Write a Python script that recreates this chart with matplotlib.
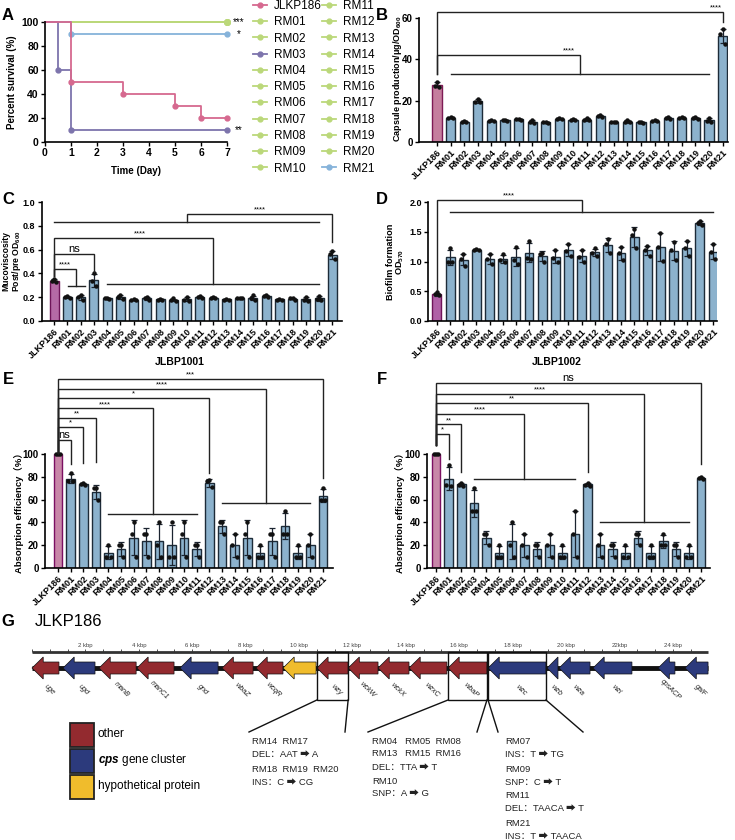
import numpy as np
import matplotlib.pyplot as plt
import matplotlib.patches as mpatches
from matplotlib.lines import Line2D

plt.rcParams['font.family'] = ['Liberation Sans', 'Noto Sans CJK SC', 'DejaVu Sans']
plt.rcParams['mathtext.fontset'] = 'custom'
plt.rcParams['mathtext.rm'] = 'Liberation Sans'
plt.rcParams['mathtext.bf'] = 'Liberation Sans:bold'
plt.rcParams['mathtext.bfit'] = 'Liberation Sans:italic:bold'
plt.rcParams['axes.linewidth'] = 1.2

W, H = 735, 840

strains = ['JLKP186', 'RM01', 'RM02', 'RM03', 'RM04', 'RM05', 'RM06', 'RM07',
           'RM08', 'RM09', 'RM10', 'RM11', 'RM12', 'RM13', 'RM14', 'RM15',
           'RM16', 'RM17', 'RM18', 'RM19', 'RM20', 'RM21']

# A: survival
days_jlkp = [0, 1, 3, 5, 6, 7]
surv_jlkp = [100, 50, 40, 30, 20, 20]
days_rm03 = [0, 0.5, 1, 7]
surv_rm03 = [100, 60, 10, 10]
days_rm21 = [0, 1, 7]
surv_rm21 = [100, 90, 90]
days_other = [0, 7]
surv_other = [100, 100]

# B: capsule production, 3 replicates
capsule = [[29.0, 27.0, 26.8], [12.0, 11.8, 11.6], [10.0, 9.6, 9.7], [21.0, 19.5, 19.2],
           [10.5, 10.2, 10.1], [10.8, 10.5, 10.2], [11.2, 11.0, 10.8], [10.5, 9.5, 9.4],
           [9.8, 9.5, 9.3], [11.6, 11.2, 11.0], [10.9, 10.8, 10.7], [11.5, 10.6, 10.4],
           [13.0, 12.8, 12.0], [9.9, 9.7, 9.6], [10.5, 9.6, 9.5], [9.9, 9.5, 9.2],
           [10.4, 10.2, 10.0], [12.0, 11.5, 11.3], [12.2, 11.8, 11.5], [12.3, 11.5, 11.2],
           [11.8, 10.2, 9.8], [54.5, 52.0, 47.5]]

# C: mucoviscosity
mucov = [[0.35, 0.34, 0.33], [0.21, 0.20, 0.19], [0.22, 0.20, 0.18], [0.40, 0.34, 0.29],
         [0.195, 0.19, 0.185], [0.22, 0.20, 0.185], [0.185, 0.18, 0.175], [0.205, 0.19, 0.18],
         [0.185, 0.18, 0.18], [0.19, 0.175, 0.17], [0.20, 0.18, 0.17], [0.21, 0.20, 0.19],
         [0.20, 0.195, 0.19], [0.185, 0.18, 0.18], [0.195, 0.19, 0.19], [0.215, 0.19, 0.18],
         [0.215, 0.21, 0.205], [0.185, 0.18, 0.18], [0.195, 0.19, 0.18], [0.20, 0.18, 0.17],
         [0.21, 0.185, 0.175], [0.59, 0.56, 0.52]]

# D: biofilm
biofilm = [[0.48, 0.45, 0.43], [1.22, 1.00, 1.00], [1.12, 1.05, 0.93], [1.21, 1.20, 1.19],
           [1.13, 1.04, 0.95], [1.12, 1.02, 1.00], [1.24, 1.03, 0.95], [1.34, 1.06, 1.05],
           [1.15, 1.13, 1.00], [1.20, 1.06, 0.99], [1.30, 1.18, 1.09], [1.20, 1.07, 1.00],
           [1.22, 1.14, 1.10], [1.37, 1.30, 1.14], [1.24, 1.14, 1.03], [1.55, 1.45, 1.22],
           [1.26, 1.20, 1.10], [1.48, 1.25, 1.01], [1.33, 1.20, 1.02], [1.35, 1.22, 1.10],
           [1.68, 1.64, 1.61], [1.29, 1.16, 1.04]]

# E: absorption efficiency JLBP1001
absorb_1001 = [[100, 100, 100], [83, 76, 76], [75, 74, 73], [70, 70, 60], [20, 10, 10],
               [20, 20, 10], [40, 30, 10], [30, 30, 10], [40, 20, 10], [40, 10, 10],
               [40, 30, 10], [20, 20, 10], [77, 76, 71], [40, 40, 30], [30, 20, 10],
               [40, 30, 10], [20, 10, 10], [30, 30, 10], [50, 30, 30], [20, 10, 10],
               [30, 20, 10], [70, 60, 60]]

# F: absorption efficiency JLBP1002
absorb_1002 = [[100, 100, 100], [90, 73, 72], [75, 73, 72], [70, 50, 50], [30, 30, 20],
               [20, 10, 10], [40, 20, 10], [30, 20, 10], [20, 20, 10], [30, 20, 10],
               [20, 10, 10], [50, 30, 10], [75, 73, 72], [30, 20, 10], [20, 20, 10],
               [20, 10, 10], [30, 30, 20], [20, 10, 10], [30, 20, 20], [20, 20, 10],
               [20, 10, 10], [80, 79, 78]]

# significance brackets: (x0, x1, height, left end, right end, text, text x, group)
sig_b = [(0, 21, 62.9, 33, 58, '****', 20.5, None),
         (0, 10.5, 42, 33, 33, '****', 9.7, (1, 20))]
sig_c = [(10, 21, 0.90, 0.83, 0.66, '****', None, (0, 20)),
         (0, 12, 0.70, 0.38, 0.31, '****', 6.5, (4, 20)),
         (0, 3, 0.56, 0.38, 0.41, 'ns', None, None),
         (0, 1.65, 0.44, 0.38, 0.29, '****', None, (1.05, 2.3))]
sig_d = [(0, 11, 2.03, 0.52, 1.83, '****', None, (1, 21))]
sig_e = [(0, 21, 165.8, 101, 79, '***', None, None),
         (0, 16.5, 157, 101, 57, '****', None, (13, 20)),
         (0, 12, 149, 101, 83, '*', None, None),
         (0, 7.5, 140, 101, 47, '****', None, (4, 11)),
         (0, 3, 132, 101, 93, '**', None, None),
         (0, 2, 124, 101, 92, '*', None, None),
         (0, 1, 112, 101, 91, 'ns', None, None)]
sig_f = [(0, 21, 162, 108, 91, 'ns', None, None),
         (0, 16.5, 153, 108, 40, '****', None, (13, 20)),
         (0, 12, 145, 108, 84, '**', None, None),
         (0, 7, 135, 108, 78, '****', None, (3, 11)),
         (0, 2, 126, 108, 84, '**', None, None),
         (0, 1, 118, 108, 96, '*', None, None)]

# G: gene map (kbp)
gene_names = ['uge', 'ugd', 'manB', 'manC1', 'gnd', 'wbaZ', 'wcqR', '', 'wzy', 'wckW',
              'wckX', 'wzxC', 'wbaP', 'wzc', 'wzb', 'wza', 'wzi', 'cpsACP', 'galF']
gene_start = [0.0, 1.16, 2.51, 3.93, 5.54, 7.12, 8.39, 9.40, 10.67, 11.84,
              12.96, 14.12, 15.58, 17.08, 19.29, 19.74, 21.01, 23.45, 24.46]
gene_end = [1.01, 2.36, 3.90, 5.32, 6.97, 8.28, 9.40, 10.64, 11.84, 12.96,
            14.12, 15.54, 17.04, 19.25, 19.70, 20.90, 22.47, 24.08, 25.32]
gene_type = ['other', 'cps', 'other', 'other', 'cps', 'other', 'other', 'hyp', 'other', 'other',
             'other', 'other', 'other', 'cps', 'cps', 'cps', 'cps', 'cps', 'cps']
ruler_labels = ['2 kbp', '4 kbp', '6 kbp', '8 kbp', '10 kbp', '12 kbp',
                '14 kbp', '16 kbp', '18 kbp', '20 kbp', '22kbp', '24 kbp']
boxed_genes = ['wzy', 'wbaP', 'wzc']
mut_block1 = ['RM14  RM17', 'DEL：AAT ➡ A', 'RM18  RM19  RM20', 'INS：C ➡ CG']
mut_block2 = ['RM04   RM05  RM08', 'RM13   RM15  RM16', 'DEL：TTA ➡ T', 'RM10', 'SNP：A ➡ G']
mut_block3 = ['RM07', 'INS：T ➡ TG', 'RM09', 'SNP：C ➡ T', 'RM11', 'DEL：TAACA ➡ T',
              'RM21', 'INS：T ➡ TAACA']

gene_colors = {'other': '#932A2F', 'cps': '#2C3A7C', 'hyp': '#F0BC2C'}
c_pink, c_purple, c_blue, c_green = '#D6698F', '#7D74AC', '#86B3DA', '#BBD87A'
bar_blue, bar_edge = '#8CB2CD', '#1D2B38'


def rect(l, t, r, b):
    return [l / W, 1 - b / H, (r - l) / W, (b - t) / H]


def ylab(ax, text, px, left, width, yfrac=0.5, fs=7):
    ax.set_ylabel(text, fontsize=fs, fontweight='bold', va='center', ha='center',
                  linespacing=1.0)
    ax.yaxis.set_label_coords((px - left) / width, yfrac)


def bar_panel(ax, pts, face0, edge0, xlim, ylim, yticks, ytop, yfmt, ytick_fs=7):
    pts = np.array(pts, dtype=float)
    means = pts.mean(axis=1)
    sds = pts.std(axis=1, ddof=1)
    x = np.arange(len(strains))
    ax.bar(x, means, width=0.68, color=[face0] + [bar_blue] * 21,
           edgecolor=[edge0] + [bar_edge] * 21, linewidth=1.0, zorder=2)
    ax.errorbar(x, means, yerr=sds, fmt='none', ecolor='#1b2430', elinewidth=0.9,
                capsize=2.0, capthick=0.9, zorder=3)
    offs = np.array([0, -0.17, 0.17])
    ax.plot((x[:, None] + offs).ravel(), pts.ravel(), 'o', ms=2.2, color='#111',
            zorder=4, linestyle='none')
    ax.set_xlim(xlim)
    ax.set_ylim(ylim)
    ax.spines[['top', 'right']].set_visible(False)
    ax.spines['left'].set_bounds(0, ytop)
    ax.set_yticks(yticks)
    ax.set_yticklabels([yfmt.format(v) for v in yticks], fontsize=ytick_fs, fontweight='bold')
    ax.set_xticks(x)
    ax.set_xticklabels(strains, rotation=45, ha='right', rotation_mode='anchor',
                       fontsize=6.5, fontweight='bold')
    ax.tick_params(length=3, width=1, pad=1.5)


def brackets(ax, sigs):
    for x0, x1, h, y0, y1, txt, tx, grp in sigs:
        ax.plot([x0, x0, x1, x1], [y0, h, h, y1], color='#222', lw=1.0, clip_on=False,
                solid_joinstyle='miter', zorder=5)
        if grp is not None:
            ax.plot(grp, [y0 if x0 != 0 else y1] * 2, color='#222', lw=1.0,
                    clip_on=False, zorder=5)
        if tx is None:
            tx = (x0 + x1) / 2
        fs = 8 if txt == 'ns' else 5.5
        ax.annotate(txt, (tx, h), xytext=(0, 0.3), textcoords='offset points',
                    ha='center', va='bottom', fontsize=fs, annotation_clip=False)


fig = plt.figure(figsize=(W / 100, H / 100), dpi=100)

# ---------------- A ----------------
ax = fig.add_axes(rect(45, 22, 227, 142))
curves = {}
for s in strains:
    if s == 'JLKP186':
        curves[s] = (days_jlkp, surv_jlkp, c_pink)
    elif s == 'RM03':
        curves[s] = (days_rm03, surv_rm03, c_purple)
    elif s == 'RM21':
        curves[s] = (days_rm21, surv_rm21, c_blue)
    else:
        curves[s] = (days_other, surv_other, c_green)
order = [s for s in strains if curves[s][2] == c_green] + ['RM21', 'RM03', 'JLKP186']
for s in order:
    d, v, c = curves[s]
    ax.step(d, v, where='post', color=c, lw=1.3, clip_on=False)
    ax.plot(d[1:], v[1:], 'o', ms=3.5, color=c, clip_on=False)
ax.set_xlim(0, 7)
ax.set_ylim(0, 100)
ax.spines[['top', 'right']].set_visible(False)
ax.set_xticks(range(8))
ax.set_yticks(range(0, 101, 20))
plt.setp(ax.get_xticklabels() + ax.get_yticklabels(), fontsize=7.5, fontweight='bold')
ax.tick_params(length=3, width=1, pad=1.5)
ax.set_xlabel('Time (Day)', fontsize=7, fontweight='bold')
ax.xaxis.set_label_coords(0.5, -0.2)
ylab(ax, 'Percent survival (%)', 12, 45, 182)
for txt, yv in [('***', 100), ('*', 90), ('**', 10)]:
    ax.text(7.45, yv, txt, fontsize=7, ha='center', va='center', clip_on=False)
handles = [Line2D([], [], color=curves[s][2], marker='o', ms=3.5, lw=1.3) for s in strains]
fig.legend(handles, strains, ncol=2, loc='upper left', bbox_to_anchor=(253 / W, 1 + 0 / H),
           frameon=False, fontsize=8.5, labelspacing=0.36, handlelength=1.2,
           handletextpad=0.6, columnspacing=0.0, borderpad=0, borderaxespad=0)

# ---------------- B ----------------
ax = fig.add_axes(rect(419, 8, 728, 142))
bar_panel(ax, capsule, '#C57E9E', '#7E1A55', (-1.32, 21.4), (0, 64.8), [0, 20, 40, 60], 60, '{:.0f}')
brackets(ax, sig_b)
ylab(ax, r'Capsule production/μg/OD$_{\mathbf{600}}$', 397, 419, 309, 0.47, fs=6.5)

# ---------------- C ----------------
ax = fig.add_axes(rect(41.7, 202, 341.7, 321))
bar_panel(ax, mucov, '#B56AA6', '#6E1459', (-0.93, 21.7), (0, 1.0),
          [0, 0.2, 0.4, 0.6, 0.8, 1.0], 1.0, '{:.1f}', ytick_fs=6.5)
brackets(ax, sig_c)
ylab(ax, 'Mucoviscosity\n' + r'Post/pre OD$_{\mathbf{600}}$', 12, 41.7, 300, fs=6.2)
fig.text(180 / W, 1 - 362 / H, 'JLBP1001', fontsize=7.5, fontweight='bold',
         ha='center', va='center')

# ---------------- D ----------------
ax = fig.add_axes(rect(428, 202, 717, 321))
bar_panel(ax, biofilm, '#B060A6', '#6E1459', (-0.68, 21.3), (0, 2.0),
          [0, 0.5, 1.0, 1.5, 2.0], 2.0, '{:.1f}', ytick_fs=6.5)
brackets(ax, sig_d)
ylab(ax, 'Biofilm formation\n' + r'OD$_{\mathbf{570}}$', 396, 428, 289, fs=6.6)
fig.text(557 / W, 1 - 362 / H, 'JLBP1002', fontsize=7.5, fontweight='bold',
         ha='center', va='center')

# ---------------- E ----------------
ax = fig.add_axes(rect(45, 372, 333, 568))
bar_panel(ax, absorb_1001, '#C887A8', '#7B0F62', (-1.03, 21.8), (0, 172),
          list(range(0, 101, 20)), 100, '{:.0f}')
brackets(ax, sig_e)
ylab(ax, 'Absorption efficiency（%）', 19, 45, 288, 50 / 172, fs=6.8)

# ---------------- F ----------------
ax = fig.add_axes(rect(427, 372, 710, 568))
bar_panel(ax, absorb_1002, '#C887A8', '#7B0F62', (-0.71, 21.7), (0, 172),
          list(range(0, 101, 20)), 100, '{:.0f}')
brackets(ax, sig_f)
ylab(ax, 'Absorption efficiency（%）', 400, 427, 283, 50 / 172, fs=6.8)

# panel letters
for lab, px, py in [('A', 8, 15), ('B', 382, 15), ('C', 8, 199), ('D', 382, 199),
                    ('E', 8, 380), ('F', 382, 380), ('G', 8, 621)]:
    fig.text(px / W, 1 - py / H, lab, fontsize=12, fontweight='bold', ha='center', va='center')

# ---------------- G ----------------
def kb(px):
    return (px - 32) / 26.7


axg = fig.add_axes([0, 0, 1, 240 / H])
axg.set_xlim(kb(0), kb(W))
axg.set_ylim(840, 600)
axg.axis('off')
fig.text(35 / W, 1 - 621 / H, 'JLKP186', fontsize=12, ha='left', va='center')

ruler_end = gene_end[-1]
axg.plot([0, ruler_end], [652, 652], color='#333', lw=2, solid_capstyle='butt')
minor = np.arange(0, ruler_end, 2 / 3)
axg.vlines(minor, 648.5, 652, color='#333', lw=0.6)
for i, lab in enumerate(ruler_labels):
    axg.text(2 * (i + 1), 645, lab, fontsize=4.3, color='#444', ha='center', va='center')

axg.plot([0, ruler_end], [668, 668], color='#111', lw=3.5, solid_capstyle='butt', zorder=1)
for name, s, e, t in zip(gene_names, gene_start, gene_end, gene_type):
    arr = mpatches.FancyArrow(e, 668, -(e - s), 0, width=12, head_width=22,
                              head_length=min(0.42, e - s), length_includes_head=True,
                              fc=gene_colors[t], ec='#111', lw=0.5, zorder=2)
    axg.add_patch(arr)
    if name:
        axg.text((s + e) / 2 + 0.15, 690, name, fontsize=5.2, style='italic',
                 rotation=-45, ha='center', va='center', color='#222')
    if name in boxed_genes:
        axg.add_patch(mpatches.Rectangle((s, 652), e - s, 48, fill=False, ec='#111',
                                         lw=1, zorder=3))

box_s = [gene_start[gene_names.index(g)] for g in boxed_genes]
box_e = [gene_end[gene_names.index(g)] for g in boxed_genes]
line_tops = [box_s[0], box_e[0], box_s[1], box_e[1], box_s[2], box_e[2]]
line_ends = [249, 345, 368, 477, 498, 583]
for xt, pe in zip(line_tops, line_ends):
    axg.plot([xt, kb(pe)], [700, 732], color='#111', lw=1)

for block, px, ys in [(mut_block1, 252, [741, 754, 769, 782]),
                      (mut_block2, 372, [741, 754, 767, 781, 793]),
                      (mut_block3, 505, [741, 754, 769, 782, 796, 808, 823, 836])]:
    for txt, py in zip(block, ys):
        fig.text(px / W, 1 - py / H, txt, fontsize=6.8, ha='left', va='center', color='#222')

leg_items = [('other', 'other'), ('cps', r'$\mathbfit{cps}$ gene cluster'),
             ('hyp', 'hypothetical protein')]
for i, (key, lab) in enumerate(leg_items):
    top = 723 + 26 * i
    axg.add_patch(mpatches.Rectangle((kb(70), top), kb(94) - kb(70), 24,
                                     fc=gene_colors[key], ec='#222', lw=1.3))
    fig.text(98 / W, 1 - (top + 11) / H, lab, fontsize=8.5, ha='left', va='center')

fig.savefig('out.png', dpi=100)
